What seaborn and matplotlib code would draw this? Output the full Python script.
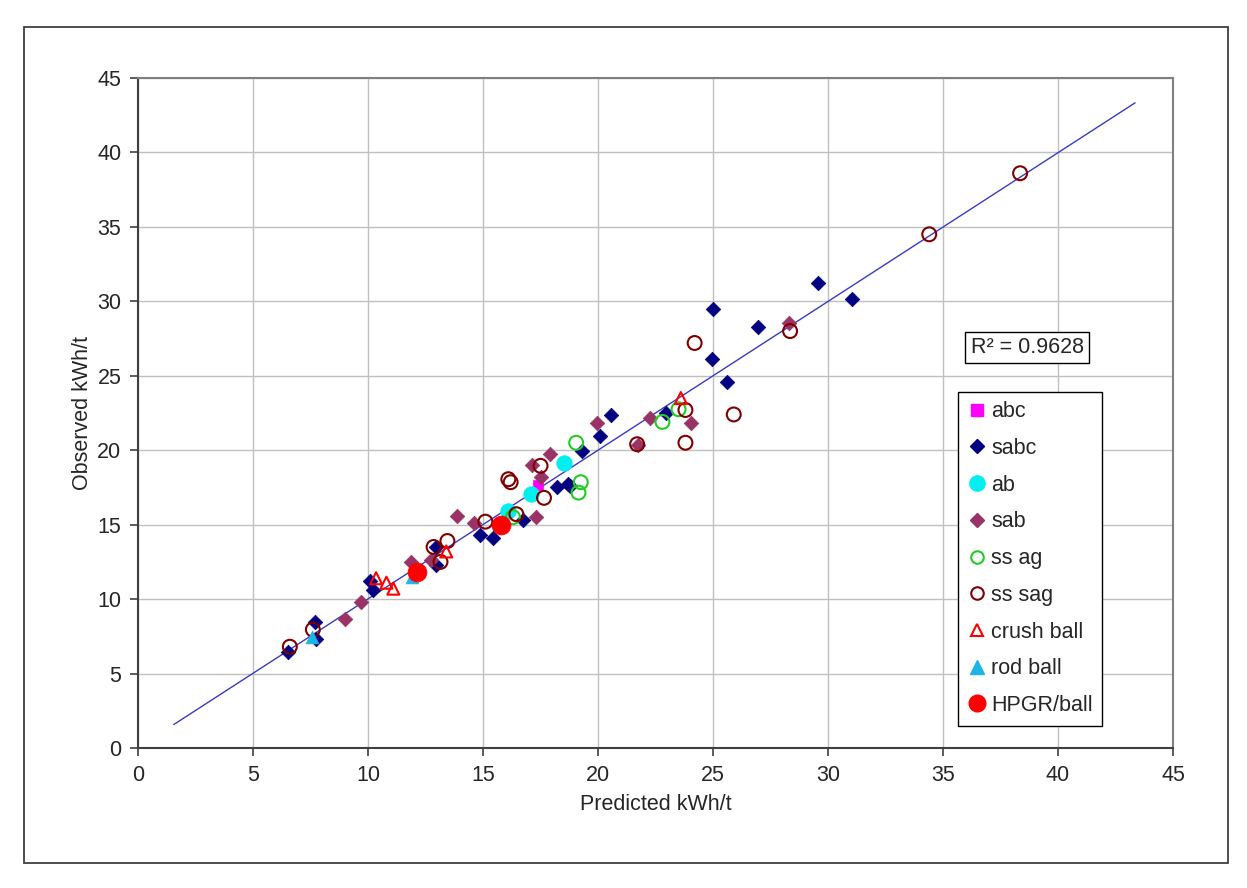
import matplotlib
matplotlib.use("Agg")
import matplotlib.pyplot as plt
import seaborn as sns
import pandas as pd
from matplotlib.lines import Line2D
from matplotlib.patches import Rectangle

# ---------------- data ----------------
abc_x = [17.4]
abc_y = [17.65]

sabc_x = [6.5, 7.7, 7.75, 10.1, 10.2, 12.95, 12.95, 14.85, 15.45, 16.75, 18.2, 18.7,
          18.8, 19.3, 20.1, 20.55, 22.95, 24.95, 25.0, 25.6, 26.95, 29.55, 31.05]
sabc_y = [6.45, 8.45, 7.3, 11.2, 10.6, 13.5, 12.3, 14.3, 14.1, 15.3, 17.5, 17.75,
          17.6, 19.95, 20.95, 22.35, 22.5, 26.1, 29.5, 24.55, 28.3, 31.25, 30.15]

ab_x = [16.1, 17.1, 18.5]
ab_y = [15.9, 17.05, 19.15]

sab_x = [9.0, 9.7, 11.85, 12.75, 13.85, 14.6, 17.15, 17.5, 17.3, 17.9, 19.95, 21.75,
         22.25, 24.05, 28.3]
sab_y = [8.65, 9.8, 12.5, 12.6, 15.55, 15.1, 19.0, 18.2, 15.5, 19.75, 21.8, 20.35,
         22.15, 21.85, 28.55]

ssag_x = [16.3, 19.05, 19.25, 19.15, 22.8, 23.5]
ssag_y = [15.5, 20.5, 17.85, 17.15, 21.9, 22.75]

sssag_x = [6.6, 7.6, 12.85, 13.45, 13.15, 15.1, 16.45, 16.1, 16.2, 17.5, 17.65, 21.7,
           23.8, 23.8, 24.2, 25.9, 28.35, 34.4, 38.35]
sssag_y = [6.8, 7.95, 13.5, 13.9, 12.5, 15.2, 15.7, 18.05, 17.85, 18.95, 16.8, 20.4,
           22.7, 20.5, 27.2, 22.4, 28.0, 34.5, 38.6]

crush_x = [10.35, 10.8, 11.1, 13.4, 23.6]
crush_y = [11.4, 11.1, 10.7, 13.2, 23.5]

rod_x = [7.55, 11.9]
rod_y = [7.45, 11.5]

hpgr_x = [12.15, 15.8]
hpgr_y = [11.85, 14.95]

trend_x = [1.55, 43.35]
trend_y = [1.57, 43.33]

r2_text = "R² = 0.9628"
ticks = [0, 5, 10, 15, 20, 25, 30, 35, 40, 45]

# ---------------- style ----------------
sns.set_style("white")
plt.rcParams["font.family"] = ["Liberation Sans", "DejaVu Sans"]

fig = plt.figure(figsize=(12.47, 8.88), dpi=100)
ax = fig.add_axes([0.1107, 0.1577, 0.83, 0.7545])

# outer frame
fig.patches.append(Rectangle((0.0192, 0.0282), 0.9655, 0.9414, transform=fig.transFigure,
                             fill=False, edgecolor="#404040", linewidth=1.3, zorder=0))

ax.set_xlim(0, 45)
ax.set_ylim(0, 45)
ax.set_xticks(ticks)
ax.set_yticks(ticks)
ax.grid(True, color="#C0C0C0", linewidth=1.0)
ax.set_axisbelow(True)

# trend line
sns.lineplot(x=trend_x, y=trend_y, ax=ax, color="#3A3AC8", linewidth=1.0, zorder=1)

series = [
    ("abc", abc_x, abc_y, dict(marker="s", s=55, color="#FF00FF", edgecolor="#FF00FF", linewidth=0.5)),
    ("sabc", sabc_x, sabc_y, dict(marker="D", s=55, color="#000080", edgecolor="#000080", linewidth=0.5)),
    ("ab", ab_x, ab_y, dict(marker="o", s=125, color="#00F0F0", edgecolor="#00F0F0", linewidth=0.5)),
    ("sab", sab_x, sab_y, dict(marker="D", s=55, color="#993366", edgecolor="#993366", linewidth=0.5)),
    ("ss ag", ssag_x, ssag_y, dict(marker="o", s=100, facecolor="none", edgecolor="#22CC22", linewidth=1.5)),
    ("ss sag", sssag_x, sssag_y, dict(marker="o", s=100, facecolor="none", edgecolor="#800000", linewidth=1.5)),
    ("crush ball", crush_x, crush_y, dict(marker="^", s=75, facecolor="none", edgecolor="#FF0000", linewidth=1.5)),
    ("rod ball", rod_x, rod_y, dict(marker="^", s=85, color="#1EB4E6", edgecolor="#1EB4E6", linewidth=0.5)),
    ("HPGR/ball", hpgr_x, hpgr_y, dict(marker="o", s=185, color="#FF0000", edgecolor="#FF0000", linewidth=0.5)),
]

for name, xs, ys, kw in series:
    df = pd.DataFrame({"x": xs, "y": ys})
    sns.scatterplot(data=df, x="x", y="y", ax=ax, zorder=3, legend=False, **kw)

# spines
for side in ["left", "bottom"]:
    ax.spines[side].set_color("#404040")
    ax.spines[side].set_linewidth(1.5)
for side in ["top", "right"]:
    ax.spines[side].set_color("#808080")
    ax.spines[side].set_linewidth(1.5)

ax.tick_params(axis="both", direction="out", length=6, width=1.2, color="#404040",
               labelsize=15.5, pad=6, bottom=True, left=True)
ax.set_xlabel("Predicted kWh/t", fontsize=15.5, labelpad=6)
ax.set_ylabel("Observed kWh/t", fontsize=15.5, labelpad=3)

# legend
handles = [
    Line2D([], [], linestyle="none", marker="s", markersize=8, color="#FF00FF"),
    Line2D([], [], linestyle="none", marker="D", markersize=7, color="#000080"),
    Line2D([], [], linestyle="none", marker="o", markersize=11, color="#00F0F0"),
    Line2D([], [], linestyle="none", marker="D", markersize=7, color="#993366"),
    Line2D([], [], linestyle="none", marker="o", markersize=9, markerfacecolor="none",
           markeredgecolor="#22CC22", markeredgewidth=1.5),
    Line2D([], [], linestyle="none", marker="o", markersize=9, markerfacecolor="none",
           markeredgecolor="#800000", markeredgewidth=1.5),
    Line2D([], [], linestyle="none", marker="^", markersize=9, markerfacecolor="none",
           markeredgecolor="#FF0000", markeredgewidth=1.5),
    Line2D([], [], linestyle="none", marker="^", markersize=10, color="#1EB4E6"),
    Line2D([], [], linestyle="none", marker="o", markersize=12, color="#FF0000"),
]
labels = [s[0] for s in series]
leg = ax.legend(handles, labels, loc="upper left", bbox_to_anchor=(0.792, 0.532),
                borderaxespad=0, frameon=True, fancybox=False, fontsize=15.5,
                handlelength=0.9, handletextpad=0.2, labelspacing=0.73,
                borderpad=0.45, edgecolor="black")
leg.get_frame().set_linewidth(1.0)
leg.get_frame().set_facecolor("white")
leg.get_frame().set_alpha(1)

ax.text(38.66, 26.9, r2_text, ha="center", va="center", fontsize=15.5, zorder=5,
        bbox=dict(boxstyle="square,pad=0.25", facecolor="white", edgecolor="black", linewidth=1.0))

fig.savefig("out.png", dpi=100)
